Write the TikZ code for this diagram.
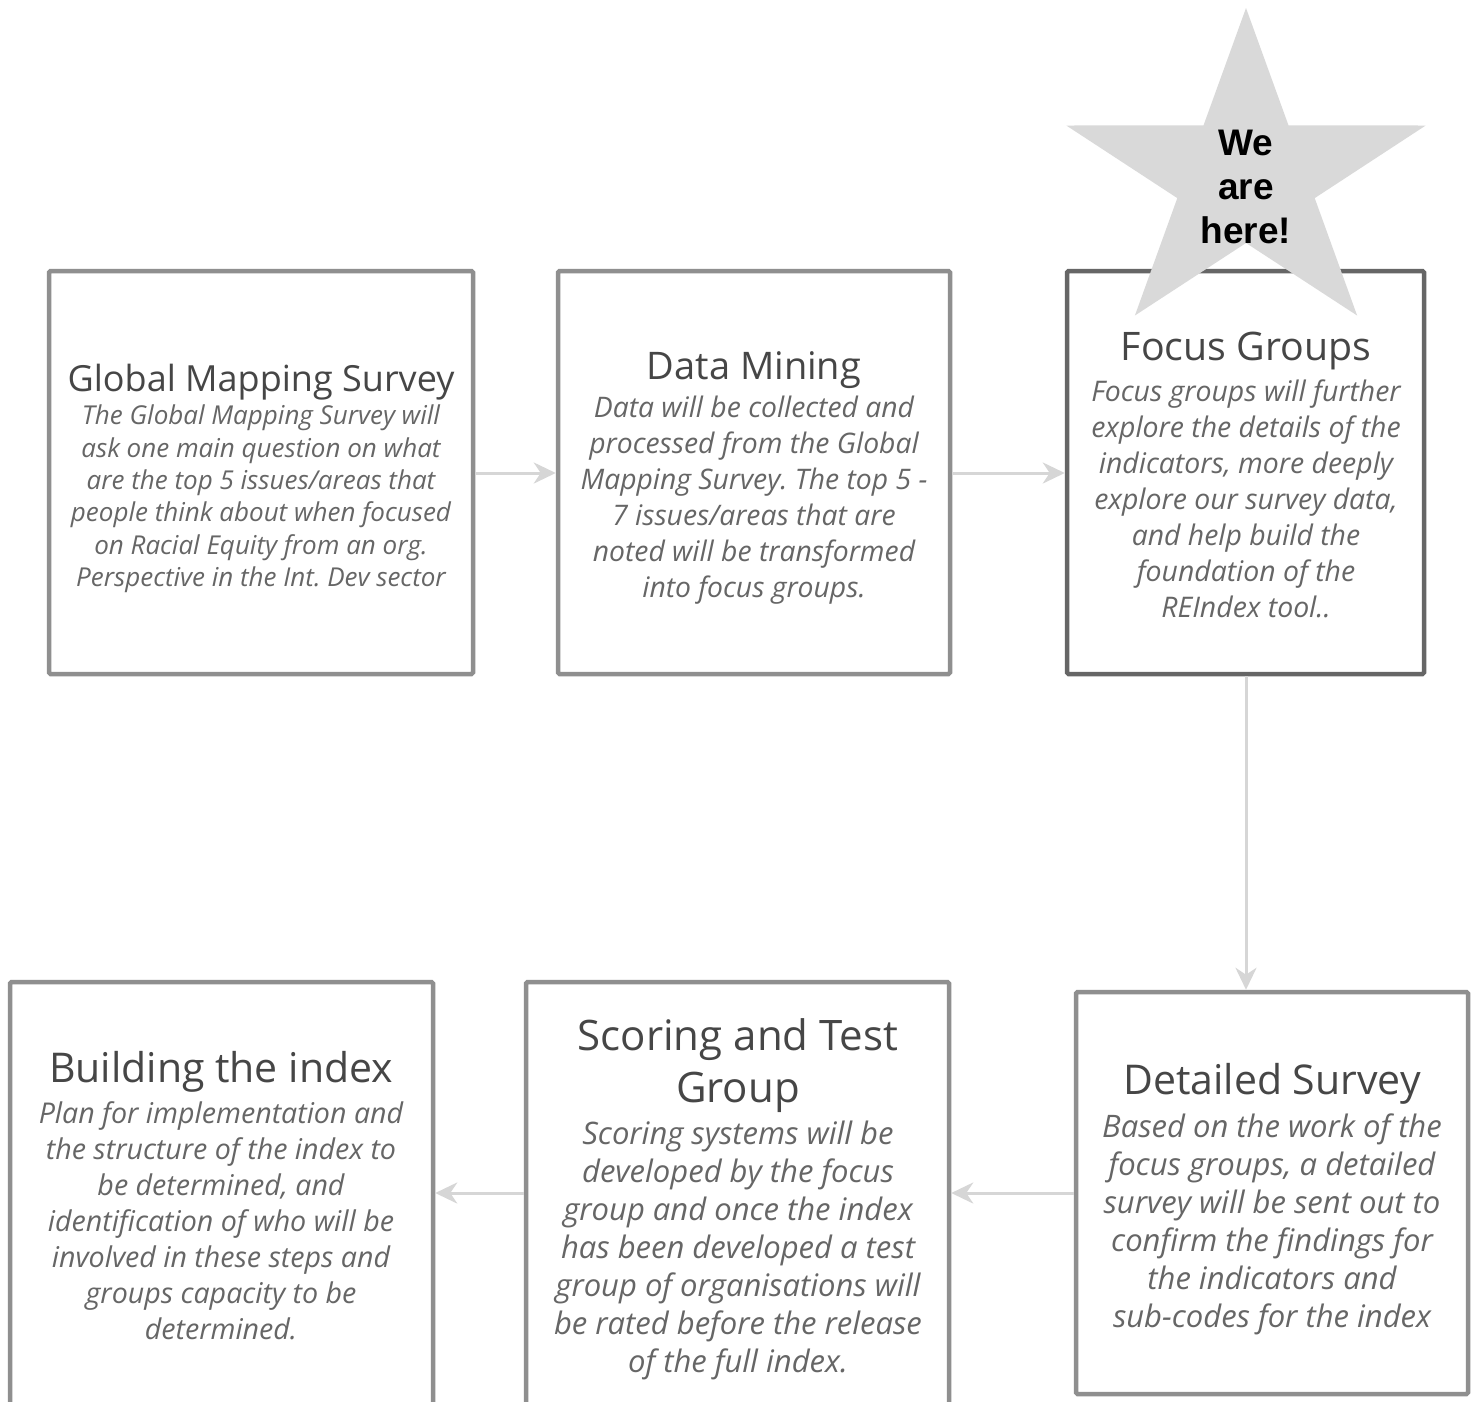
\documentclass[tikz,border=0pt]{standalone}
\usepackage{fontspec}
\setmainfont{Open Sans}
\newfontfamily\starfont{Liberation Sans}
\usetikzlibrary{arrows.meta}
\frenchspacing
\definecolor{boxgray}{HTML}{8F8F8F}
\definecolor{boxdark}{HTML}{666666}
\definecolor{arrowgray}{HTML}{D6D6D6}
\definecolor{stargray}{HTML}{D9D9D9}
\definecolor{titlecol}{HTML}{464646}
\definecolor{bodycol}{HTML}{666666}
\tikzset{
  stepbox/.style={draw=boxgray, line width=4.5pt, rounded corners=1.5pt, fill=white, inner sep=0pt},
  darkbox/.style={stepbox, draw=boxdark},
  ttl/.style={text=titlecol, align=center, inner sep=0pt},
  bdy/.style={text=bodycol, align=center, inner sep=0pt, font=\itshape},
  conn/.style={draw=arrowgray, line width=3pt, -{Stealth[length=22pt,width=21pt,inset=7pt]}},
}
\begin{document}
\begin{tikzpicture}[x=1pt,y=-1pt]
\clip (0,0) rectangle (1477,1401);
\fill[white] (0,0) rectangle (1477,1401);
% boxes
\node[stepbox, minimum width=424pt, minimum height=403pt] (b1) at (261,472.5) {};
\node[stepbox, minimum width=392pt, minimum height=403pt] (b2) at (754,472.5) {};
\node[darkbox, minimum width=357pt, minimum height=403pt] (b3) at (1245.5,472.5) {};
\node[stepbox, minimum width=392pt, minimum height=402pt] (b4) at (1272,1193) {};
\node[stepbox, minimum width=423pt, minimum height=440pt] (b5) at (737.5,1202) {};
\node[stepbox, minimum width=423pt, minimum height=440pt] (b6) at (221.5,1202) {};
% connectors
\draw[conn] (b1.east |- 0,473) -- (b2.west |- 0,473);
\draw[conn] (b2.east |- 0,473) -- (b3.west |- 0,473);
\draw[conn] (b3.south -| 1246,0) -- (b4.north -| 1246,0);
\draw[conn] (b4.west |- 0,1193) -- (b5.east |- 0,1193);
\draw[conn] (b5.west |- 0,1193) -- (b6.east |- 0,1193);
% box 1
\node[ttl, font=\fontsize{36}{40}\selectfont] (t1) at (261,382) {Global Mapping Survey};
\node[bdy, font=\fontsize{26}{32.4}\selectfont\itshape] (d1) at (261,499) {The Global Mapping Survey will\\ask one main question on what\\are the top 5 issues/areas that\\people think about when focused\\on Racial Equity from an org.\\Perspective in the Int. Dev sector};
% box 2
\node[ttl, font=\fontsize{38}{42}\selectfont] (t2) at (754,370) {Data Mining};
\node[bdy, font=\fontsize{28.3}{36}\selectfont\itshape] (d2) at (754,500) {Data will be collected and\\processed from the Global\\Mapping Survey. The top 5 -\\7 issues/areas that are\\noted will be transformed\\into focus groups.};
% box 3
\node[ttl, font=\fontsize{39.3}{42}\selectfont] (t3) at (1246,351) {Focus Groups};
\node[bdy, font=\fontsize{28.4}{36}\selectfont\itshape] (d3) at (1246,499) {Focus groups will further\\explore the details of the\\indicators, more deeply\\explore our survey data,\\and help build the\\foundation of the\\REIndex tool..};
% box 4
\node[ttl, font=\fontsize{41}{46}\selectfont] (t4) at (1272,1084) {Detailed Survey};
\node[bdy, font=\fontsize{31}{38}\selectfont\itshape] (d4) at (1272,1224) {Based on the work of the\\focus groups, a detailed\\survey will be sent out to\\confirm the findings for\\the indicators and\\sub-codes for the index};
% box 5
\node[ttl, font=\fontsize{42}{52}\selectfont] (t5) at (738,1066) {Scoring and Test\\Group};
\node[bdy, font=\fontsize{31}{38}\selectfont\itshape] (d5) at (738,1250) {Scoring systems will be\\developed by the focus\\group and once the index\\has been developed a test\\group of organisations will\\be rated before the release\\of the full index.};
% box 6
\node[ttl, font=\fontsize{41}{46}\selectfont] (t6) at (221,1072) {Building the index};
\node[bdy, font=\fontsize{28.6}{36}\selectfont\itshape] (d6) at (221,1221) {Plan for implementation and\\the structure of the index to\\be determined, and\\identification of who will be\\involved in these steps and\\groups capacity to be\\determined.};
% star
\fill[stargray] (1246,8) -- (1288.5,125.4) -- (1425.7,125.5) -- (1314.7,198.1) -- (1357.1,315.5)
  -- (1246,243) -- (1134.9,315.5) -- (1177.3,198.1) -- (1066.3,125.5) -- (1203.5,125.4) -- cycle;
\node[align=center, inner sep=0pt, font=\starfont\bfseries\fontsize{37}{44}\selectfont] (star) at (1246,187) {We\\are\\here!};
\end{tikzpicture}
\end{document}
